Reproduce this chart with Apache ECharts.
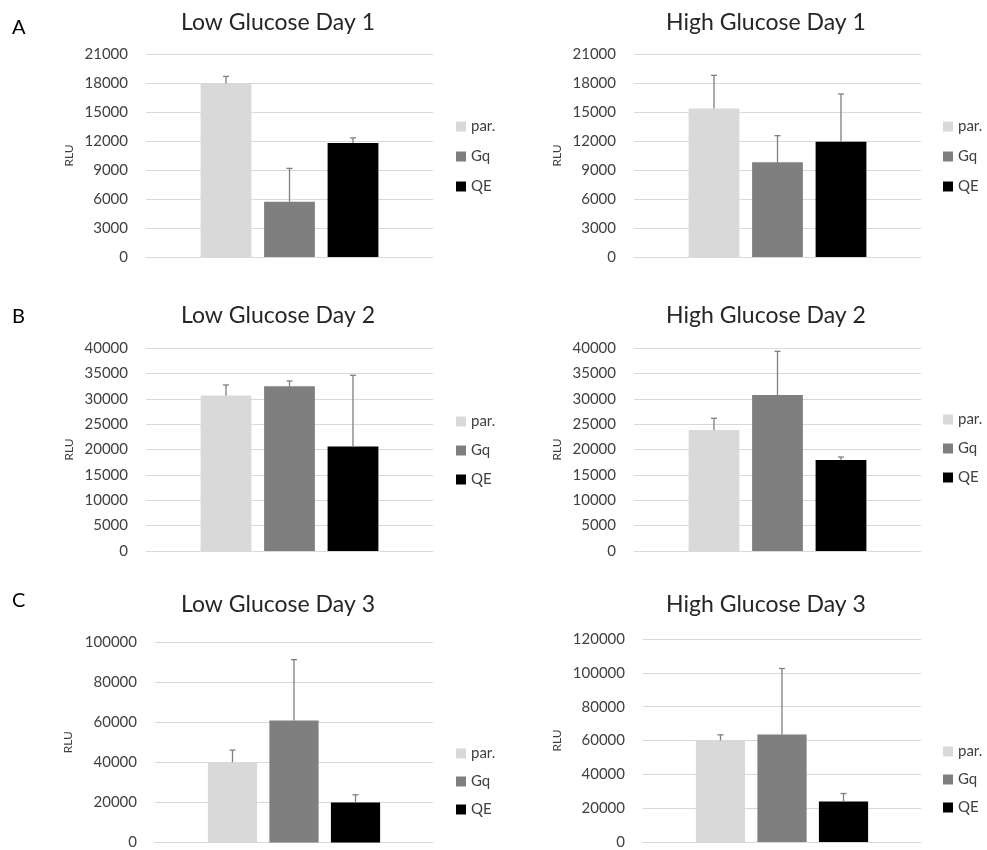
<!DOCTYPE html>
<html>
<head>
<meta charset="utf-8">
<script src="https://cdn.jsdelivr.net/npm/echarts@6/dist/echarts.min.js"></script>
<style>
  html, body { margin: 0; padding: 0; background: #fff; }
  #chart { width: 987px; height: 850px; }
</style>
</head>
<body>
<div id="chart"></div>
<script>
// groups shown in every panel
const groups = ['par.', 'Gq', 'QE'];
const panelTitles = ['Low Glucose Day 1', 'High Glucose Day 1', 'Low Glucose Day 2',
                     'High Glucose Day 2', 'Low Glucose Day 3', 'High Glucose Day 3'];
const panelLetters = ['A', 'B', 'C'];

// means (RLU) per panel, order: par., Gq, QE
const lowDay1Mean = [17950, 5720, 11800];
const highDay1Mean = [15370, 9790, 11930];
const lowDay2Mean = [30620, 32450, 20570];
const highDay2Mean = [23840, 30740, 17930];
const lowDay3Mean = [40000, 60800, 20000];
const highDay3Mean = [60000, 63550, 23940];

// error bar size (upper side only drawn)
const lowDay1Err = [730, 3450, 520];
const highDay1Err = [3420, 2760, 4930];
const lowDay2Err = [2090, 1050, 14050];
const highDay2Err = [2310, 8610, 590];
const lowDay3Err = [6090, 30390, 3790];
const highDay3Err = [3350, 39010, 4730];

// y axis ticks
const axisMax = [21000, 21000, 40000, 40000, 100000, 120000];
const axisStep = [3000, 3000, 5000, 5000, 20000, 20000];

const means = [lowDay1Mean, highDay1Mean, lowDay2Mean, highDay2Mean, lowDay3Mean, highDay3Mean];
const errs = [lowDay1Err, highDay1Err, lowDay2Err, highDay2Err, lowDay3Err, highDay3Err];

// layout of each panel, in px
const layout = [
    {left: 146, top: 54, width: 287, height: 203, legendLeft: 456, legendTop: 119, legendGap: 15, titleX: 278, titleTop: 11, nameGap: 71},
    {left: 634, top: 54, width: 287, height: 203, legendLeft: 943, legendTop: 119, legendGap: 15, titleX: 766, titleTop: 11, nameGap: 71},
    {left: 146, top: 348, width: 287, height: 203, legendLeft: 456, legendTop: 414, legendGap: 14, titleX: 278, titleTop: 304, nameGap: 71},
    {left: 634, top: 348, width: 287, height: 203, legendLeft: 943, legendTop: 412, legendGap: 14, titleX: 766, titleTop: 304, nameGap: 71},
    {left: 155, top: 642, width: 278, height: 202, legendLeft: 456, legendTop: 746, legendGap: 13, titleX: 278, titleTop: 593, nameGap: 81},
    {left: 643, top: 639, width: 278, height: 203, legendLeft: 943, legendTop: 744, legendGap: 13, titleX: 766, titleTop: 593, nameGap: 80}
];
const letterTops = [18, 307, 591];

const colors = ['#d9d9d9', '#7f7f7f', '#000000'];
const barPct = 0.177;
const barGapRatio = 0.25;
const errColor = '#7f7f7f';

function renderErr(params, api) {
    const idx = api.value(3);
    const band = api.size([1, 0])[0];
    const step = band * barPct * (1 + barGapRatio);
    const base = api.coord([0, api.value(1)]);
    const top = api.coord([0, api.value(2)]);
    const x = base[0] + (idx - 1) * step;
    const st = {stroke: errColor, lineWidth: 1.3};
    return {
        type: 'group',
        children: [
            {type: 'line', shape: {x1: x, y1: base[1], x2: x, y2: top[1]}, style: st},
            {type: 'line', shape: {x1: x - 3, y1: top[1], x2: x + 3, y2: top[1]}, style: st}
        ]
    };
}

let titles = [];
let grids = [];
let xAxes = [];
let yAxes = [];
let legends = [];
let series = [];

panelLetters.forEach((l, i) => {
    titles.push({
        text: l, left: 12, top: letterTops[i], padding: 0,
        textStyle: {fontSize: 20, fontWeight: 'normal', color: '#000'}
    });
});

layout.forEach((p, i) => {
    titles.push({
        text: panelTitles[i], left: p.titleX, top: p.titleTop, textAlign: 'center', padding: 0,
        textStyle: {fontSize: 23, fontWeight: 'normal', color: '#262626'}
    });
    grids.push({left: p.left, top: p.top, width: p.width, height: p.height});
    xAxes.push({
        type: 'category', gridIndex: i, data: [''],
        axisLine: {lineStyle: {color: '#d9d9d9', width: 1}},
        axisTick: {show: false}, axisLabel: {show: false}
    });
    yAxes.push({
        type: 'value', gridIndex: i, min: 0, max: axisMax[i], interval: axisStep[i],
        name: 'RLU', nameLocation: 'middle', nameGap: p.nameGap,
        nameTextStyle: {fontSize: 12, color: '#404040'},
        axisLine: {show: false}, axisTick: {show: false},
        axisLabel: {fontSize: 15, color: '#404040', margin: 18, formatter: v => String(v)},
        splitLine: {lineStyle: {color: '#d9d9d9', width: 1}}
    });
    legends.push({
        data: groups, orient: 'vertical', left: p.legendLeft, top: p.legendTop, padding: 0,
        itemWidth: 10, itemHeight: 10, itemGap: p.legendGap, icon: 'rect',
        textStyle: {fontSize: 15, color: '#404040'},
        selectedMode: false
    });
    groups.forEach((g, k) => {
        series.push({
            name: g, type: 'bar', xAxisIndex: i, yAxisIndex: i,
            barWidth: (barPct * 100) + '%', barGap: (barGapRatio * 100) + '%',
            itemStyle: {color: colors[k]},
            data: [means[i][k]]
        });
    });
    series.push({
        name: 'err', type: 'custom', xAxisIndex: i, yAxisIndex: i, z: 5,
        renderItem: renderErr,
        encode: {x: 0, y: [1, 2]},
        data: groups.map((g, k) => [0, means[i][k], means[i][k] + errs[i][k], k])
    });
});

const chart = echarts.init(document.getElementById('chart'));
chart.setOption({
    animation: false,
    textStyle: {fontFamily: 'Lato'},
    title: titles,
    grid: grids,
    xAxis: xAxes,
    yAxis: yAxes,
    legend: legends,
    series: series
});
</script>
</body>
</html>
